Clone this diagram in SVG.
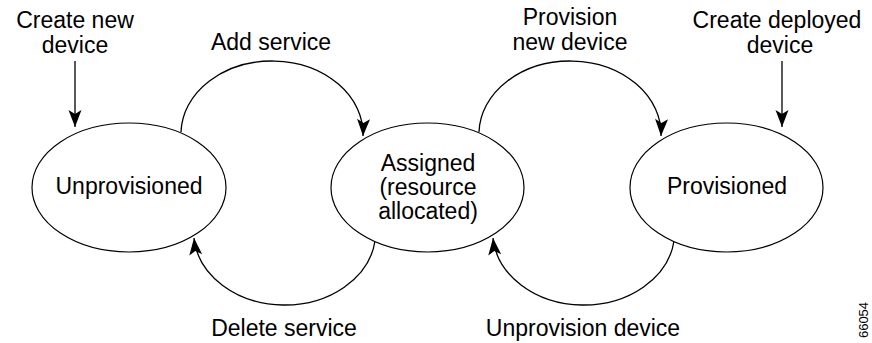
<svg xmlns="http://www.w3.org/2000/svg" width="872" height="343" viewBox="0 0 872 343">
<defs>
<style>
text{font-family:"Liberation Sans",Arial,Helvetica,sans-serif;font-size:23px;fill:#000;text-anchor:middle}
.st{fill:#fff;stroke:#000;stroke-width:1.2}
.cn{fill:none;stroke:#000;stroke-width:1.3}
.id{font-size:13px}
</style>
<marker id="ah" markerUnits="userSpaceOnUse" markerWidth="20" markerHeight="16" viewBox="-18 -8 20 16" refX="0" refY="0" orient="auto">
<path d="M0,0 L-17,-6.5 L-13,0 L-17,6.5 Z" fill="#000"/>
</marker>
</defs>
<rect width="872" height="343" fill="#fff"/>
<g id="connectors">
<line class="cn" x1="75" y1="61" x2="75" y2="127" marker-end="url(#ah)"/>
<line class="cn" x1="782" y1="61" x2="782" y2="127" marker-end="url(#ah)"/>
<path class="cn" d="M181,132 A91,73 0 0 1 363,136" marker-end="url(#ah)"/>
<path class="cn" d="M479,132 A91,73 0 0 1 661,136" marker-end="url(#ah)"/>
<path class="cn" d="M375,241 A91,73 0 0 1 194,238" marker-end="url(#ah)"/>
<path class="cn" d="M674,241 A91,73 0 0 1 493,238" marker-end="url(#ah)"/>
</g>
<g id="unprovisioned">
<ellipse class="st" cx="129" cy="187.5" rx="97" ry="64.5"/>
<text x="129" y="194">Unprovisioned</text>
</g>
<g id="assigned">
<ellipse class="st" cx="427.5" cy="187.5" rx="96.5" ry="64.5"/>
<text x="428" y="171">Assigned</text>
<text x="428" y="195">(resource</text>
<text x="428" y="219">allocated)</text>
</g>
<g id="provisioned">
<ellipse class="st" cx="726.5" cy="187.5" rx="96.5" ry="64.5"/>
<text x="727" y="194">Provisioned</text>
</g>
<g id="labels">
<text x="75" y="28">Create new</text>
<text x="75" y="53">device</text>
<text x="271" y="50">Add service</text>
<text x="570" y="25">Provision</text>
<text x="570" y="50">new device</text>
<text x="777" y="28">Create deployed</text>
<text x="780" y="53">device</text>
<text x="284" y="336">Delete service</text>
<text x="583" y="336">Unprovision device</text>
<text class="id" x="0" y="0" transform="translate(868,320) rotate(-90)">66054</text>
</g>
</svg>
